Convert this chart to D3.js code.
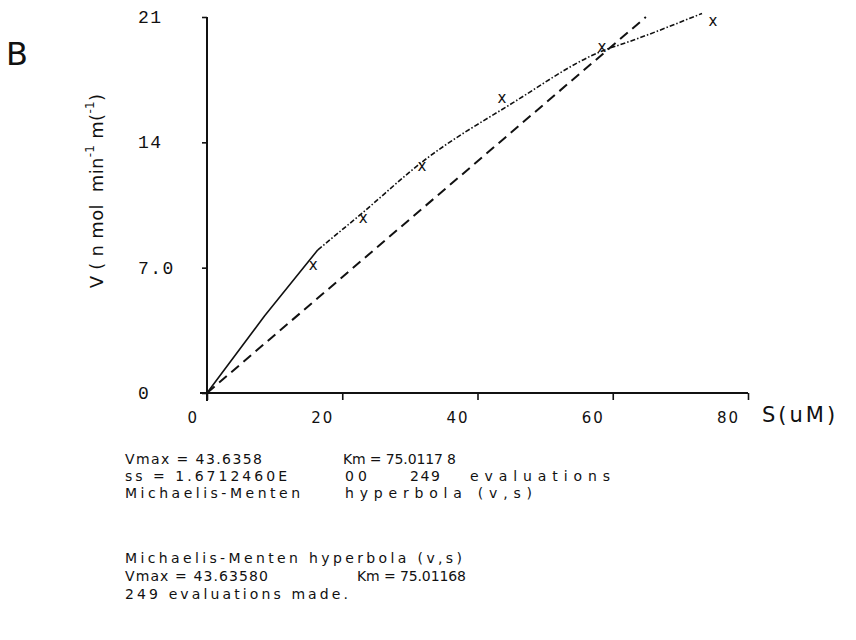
<!DOCTYPE html>
<html><head><meta charset="utf-8">
<script src="https://cdn.jsdelivr.net/npm/d3@7/dist/d3.min.js"></script>
<style>body{margin:0;background:#fff} svg{display:block}</style>
</head><body><svg id="c" width="856" height="640"></svg>
<script>
// measured points (S in uM, V in nmol/min/ml)
const substrate = [15.7, 23.1, 31.8, 43.6, 58.4, 74.8];
const velocity  = [7.15, 9.8, 12.7, 16.5, 19.3, 20.8];
// fitted hyperbola as drawn
const fitS = [0, 8.5, 16.4, 23.1, 31.8, 45.2, 58.1, 63.0, 73.2];
const fitV = [0, 4.3, 8.0, 10.1, 12.9, 16.2, 19.05, 19.7, 21.2];
// straight dashed line
const lineS = [0, 64.9];
const lineV = [0, 21.0];
const xTicks = [0, 20, 40, 60, 80];
const xTickLabels = ["0", "20", "40", "60", "80"];
const yTicks = [0, 7, 14, 21];
const yTickLabels = ["0", "7.0", "14", "21"];
// printed results (each line split into its printed fields)
const line1 = ["Vmax = 43.6358", "Km = 75.0117 8"];
const line2 = ["ss = 1.6712460E", "00", "249", "evaluations"];
const line3 = ["Michaelis-Menten", "hyperbola (v,s)"];
const line4 = ["Michaelis-Menten hyperbola (v,s)"];
const line5 = ["Vmax = 43.63580", "Km = 75.01168"];
const line6 = ["249 evaluations made."];

const svg = d3.select("#c");
const x = d3.scaleLinear().domain([0, 80]).range([207, 748]);
const y = d3.scaleLinear().domain([0, 21]).range([393, 17]);
const ink = "#111";

// axes
const gy = svg.append("g").attr("transform", `translate(${x(0)},0)`)
  .call(d3.axisLeft(y).tickValues(yTicks).tickFormat("").tickSize(5).tickSizeOuter(0));
const gx = svg.append("g").attr("transform", `translate(0,${y(0)})`)
  .call(d3.axisBottom(x).tickValues(xTicks).tickFormat("").tickSize(7).tickSizeOuter(0));
[gx, gy].forEach(g => {
  g.select(".domain").attr("stroke", ink).attr("stroke-width", 2);
  g.selectAll(".tick line").attr("stroke", ink).attr("stroke-width", 1.6);
});
gx.select(".domain").attr("d", `M${x(0)-7},0H${x(80)}`);
gy.select(".domain").attr("d", `M0,${y(0)+8}V${y(21)}`);

// tick labels
svg.append("g").selectAll("text").data(yTicks).join("text")
  .attr("x", 138).attr("y", d => y(d) + 6)
  .attr("font-family", "Liberation Mono, monospace").attr("font-size", 18)
  .attr("letter-spacing", 1.5).attr("fill", ink).text((d, i) => yTickLabels[i]);
svg.append("g").selectAll("text").data(xTicks).join("text")
  .attr("x", d => x(d) - 8).attr("y", y(0) + 30).attr("text-anchor", "end")
  .attr("font-family", "DejaVu Sans, sans-serif").attr("font-size", 15)
  .attr("letter-spacing", 2).attr("fill", ink).text((d, i) => xTickLabels[i]);

// axis titles
svg.append("text").attr("x", 762).attr("y", y(0) + 29)
  .attr("font-family", "DejaVu Sans, sans-serif").attr("font-size", 21)
  .attr("letter-spacing", 3).attr("fill", ink).text("S(uM)");
const yl = svg.append("text").attr("transform", `translate(103,191) rotate(-90)`)
  .attr("text-anchor", "middle").attr("font-family", "DejaVu Sans, sans-serif")
  .attr("font-size", 18).attr("letter-spacing", 0.3).attr("fill", ink)
  .attr("xml:space", "preserve").style("white-space", "pre");
yl.append("tspan").text("V ( n mol  min");
yl.append("tspan").attr("dy", -9).attr("font-size", 12).text("-1");
yl.append("tspan").attr("dy", 9).text(" m(");
yl.append("tspan").attr("dy", -9).attr("font-size", 12).text("-1");
yl.append("tspan").attr("dy", 9).text(")");

svg.append("text").attr("x", 6).attr("y", 65)
  .attr("font-family", "DejaVu Sans, sans-serif").attr("font-size", 32)
  .attr("fill", ink).text("B");

// lines
const line = d3.line().x(d => x(d[0])).y(d => y(d[1]));
const fit = fitS.map((s, i) => [s, fitV[i]]);
svg.append("path").attr("d", line(fit.slice(0, 3))).attr("fill", "none")
  .attr("stroke", ink).attr("stroke-width", 1.6);
svg.append("path").attr("d", d3.line().x(d => x(d[0])).y(d => y(d[1])).curve(d3.curveMonotoneX)(fit.slice(2)))
  .attr("fill", "none").attr("stroke", ink).attr("stroke-width", 1.6).attr("stroke-dasharray", "5 2 1.5 2");
svg.append("path").attr("d", line(lineS.map((s, i) => [s, lineV[i]])))
  .attr("fill", "none").attr("stroke", ink).attr("stroke-width", 2).attr("stroke-dasharray", "10 6");

// data markers
svg.append("g").selectAll("text").data(substrate).join("text")
  .attr("x", d => x(d)).attr("y", (d, i) => y(velocity[i]) + 5)
  .attr("text-anchor", "middle").attr("font-family", "DejaVu Sans, sans-serif")
  .attr("font-size", 15).attr("fill", ink).text("x");

// printed text: field start / end columns
const layout = [
  {segs: line1, y: 464, spans: [[125, 262], [343, 456]]},
  {segs: line2, y: 481, spans: [[125, 287], [345, 367], [410, 440], [470, 610]]},
  {segs: line3, y: 498, spans: [[125, 300], [345, 532]]},
  {segs: line4, y: 563, spans: [[125, 462]]},
  {segs: line5, y: 581, spans: [[125, 268], [357, 466]]},
  {segs: line6, y: 599, spans: [[125, 348]]}
];
layout.forEach(row => {
  svg.append("g").selectAll("text").data(row.segs).join("text")
    .attr("x", (d, i) => row.spans[i][0]).attr("y", row.y)
    .attr("textLength", (d, i) => row.spans[i][1] - row.spans[i][0])
    .attr("lengthAdjust", "spacing")
    .attr("font-family", "DejaVu Sans, sans-serif").attr("font-size", 14)
    .attr("fill", ink).text(d => d);
});
</script></body></html>
